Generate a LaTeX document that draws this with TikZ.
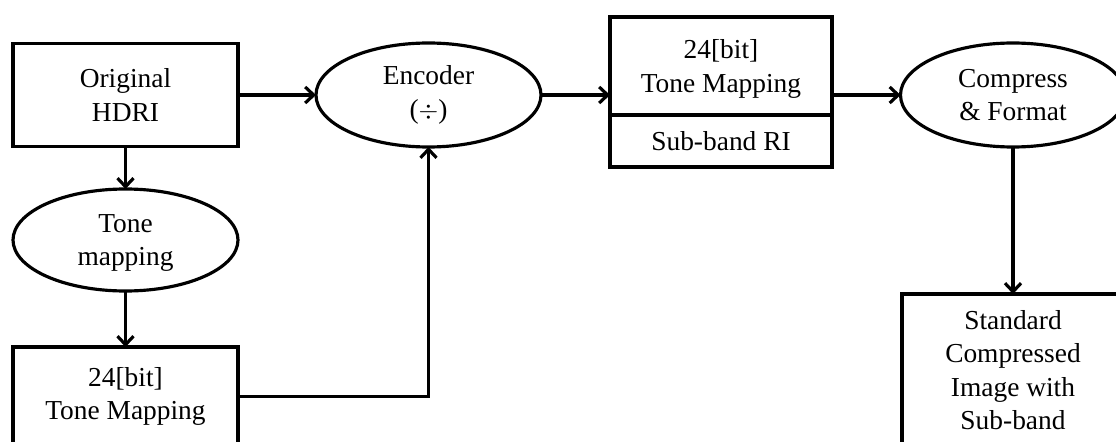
\documentclass[tikz,border=0pt]{standalone}
\usepackage{fontspec}
\setmainfont{Liberation Serif}
\usetikzlibrary{arrows.meta,positioning,shapes.geometric}

\begin{document}
\begin{tikzpicture}[
  every node/.style={font=\fontsize{15.6}{19}\selectfont,align=center,line width=1.8pt,outer sep=0pt},
  procbox/.style={draw,rectangle,minimum width=4.5cm,minimum height=2.06cm},
  procell/.style={draw,ellipse,minimum width=4.5cm,minimum height=2.06cm},
  flow/.style={line width=1.8pt,-{Straight Barb[length=1.7mm,width=3.2mm]}}
]
  \useasboundingbox (0,0) rectangle (22.32,-8.84);
  \clip (0,0) rectangle (22.32,-8.84);

  % left column
  \node[procbox] (orig) at (2.51,-1.9) {Original\\HDRI};
  \node[procell,minimum height=2.04cm,text depth=0cm] (tone) at (2.51,-4.8) {Tone\\mapping};
  \node[procbox,minimum height=1.98cm] (tmbit) at (2.51,-7.93) {24[bit]\\Tone Mapping};

  % encoder
  \node[procell,minimum height=2.08cm] (enc) at (8.57,-1.9) {Encoder\\($\div$)};

  % tone mapping with sub-band
  \node[procbox,minimum width=4.44cm,minimum height=1.96cm,text depth=0cm] (tmtop) at (14.42,-1.32) {24[bit]\\Tone Mapping};
  \node[procbox,minimum width=4.44cm,minimum height=1.04cm,below=0cm of tmtop] (tmsub) {Sub-band RI};

  % output side
  \node[procell,minimum height=2.08cm] (comp) at (20.26,-1.9) {Compress\\\& Format};
  \node[procbox,minimum width=4.44cm,minimum height=3.04cm] (std) at (20.26,-7.4)
    {Standard\\Compressed\\Image with\\Sub-band};

  \draw[flow] (orig) -- (enc);
  \draw[flow] (orig) -- (tone);
  \draw[flow] (tone) -- (tmbit);
  \draw[flow] (tmbit.east) -| (enc.south);
  \draw[flow] (enc.east) -- (enc.east -| tmtop.west);
  \draw[flow] (comp.west -| tmtop.east) -- (comp.west);
  \draw[flow] (comp) -- (std);
\end{tikzpicture}
\end{document}
